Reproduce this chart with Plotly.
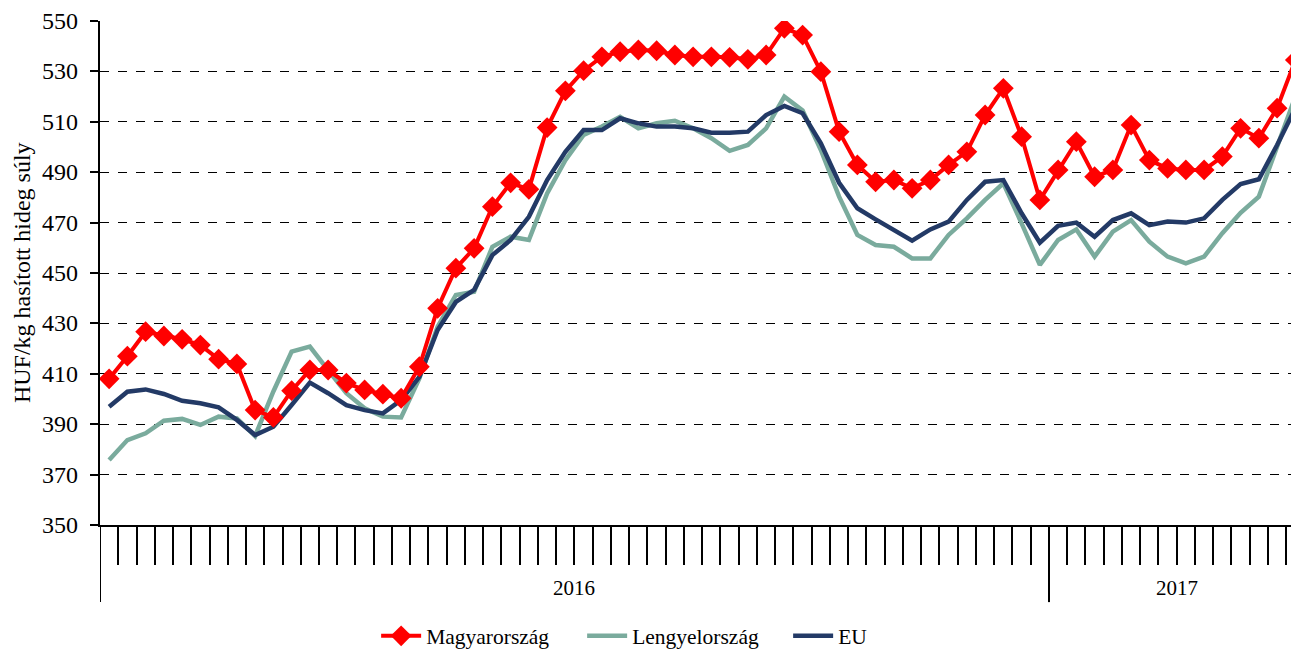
import plotly.graph_objects as go

weeks = list(range(66))  # 52 weeks of 2016 + 14 weeks of 2017

magyarorszag = [408, 417, 426.7, 425, 423.7, 421.4, 415.8, 413.9, 395.6, 392.7,
                403.3, 411.5, 411.5, 406.3, 403.6, 401.9, 400.3, 412.8, 436, 451.9,
                459.8, 476.3, 485.8, 483.2, 507.7, 522.3, 530.3, 535.8, 537.8, 538.5,
                538.2, 536.5, 535.8, 535.8, 535.6, 534.8, 536.5, 547.1, 544.4, 529.9,
                506.1, 492.9, 486.2, 486.9, 483.6, 486.9, 492.9, 498.1, 512.7, 523.3,
                504.1, 479, 490.9, 502.1, 488.2, 490.9, 508.7, 494.8, 491.5, 490.9,
                490.9, 496.2, 507.4, 503.5, 515.4, 534.5]

lengyelorszag = [375.8, 383.7, 386.4, 391.4, 392.1, 389.7, 393, 392.3, 385.3, 403,
                 418.8, 420.8, 411.5, 402.3, 396.3, 393, 392.7, 408.2, 428.7, 441.3,
                 442.6, 460.4, 464.4, 463.1, 481.6, 494.8, 504.8, 508.1, 512, 507.4,
                 509.4, 510.4, 507.4, 503.5, 498.5, 500.8, 507.4, 520, 514.5, 498.8,
                 480.3, 465.1, 461.1, 460.4, 455.8, 455.8, 465.1, 471.7, 479, 485.6,
                 469.7, 453.2, 463.1, 467.3, 456.5, 466.4, 471, 462.4, 456.5, 453.8,
                 456.5, 465.8, 473.9, 480.3, 500.1, 520]

eu = [396.9, 402.9, 403.8, 402, 399.3, 398.3, 396.7, 391.7, 385.7, 389,
      397.6, 406.5, 402.3, 397.6, 395.6, 394.3, 399.6, 408.8, 427.4, 438.5,
      443.3, 457.1, 463.1, 472.3, 486.9, 498.1, 506.7, 506.7, 511.4, 509.4,
      508.1, 508.1, 507.4, 505.7, 505.7, 506.1, 512.7, 516.3, 513.4, 501.5,
      485.8, 475.7, 471.3, 467.1, 462.8, 467.3, 470.4, 479, 486.2, 486.9,
      473.7, 462, 468.7, 470, 464.4, 471, 473.7, 469, 470.4, 470,
      471.7, 479, 485.3, 487.2, 500.8, 515.4]

years = ["2016", "2017"]
year_centers = [25.5, 58.5]
year_bounds = [-0.5, 51.5]

y_ticks = list(range(350, 551, 20))
y_tick_labels = [str(v) for v in y_ticks]
y_title = "HUF/kg hasított hideg súly"

FONT = "Liberation Serif, Times New Roman, serif"

fig = go.Figure()
fig.add_trace(go.Scatter(x=weeks, y=lengyelorszag, mode="lines", name="Lengyelország",
                         line=dict(color="#7AAB9D", width=4.5), legendrank=2))
fig.add_trace(go.Scatter(x=weeks, y=eu, mode="lines", name="EU",
                         line=dict(color="#233A66", width=4.5), legendrank=3))
fig.add_trace(go.Scatter(x=weeks, y=magyarorszag, mode="lines+markers", name="Magyarország",
                         line=dict(color="#FF0000", width=4),
                         marker=dict(symbol="diamond", size=16, color="#FF0000"),
                         legendrank=1))

shapes = []
for b in year_bounds:
    shapes.append(dict(type="line", xref="x", yref="paper", x0=b, x1=b, y0=0, y1=-0.153,
                       line=dict(color="black", width=2)))

annotations = []
for name, c in zip(years, year_centers):
    annotations.append(dict(x=c, y=-0.125, xref="x", yref="paper", text=name, showarrow=False,
                            font=dict(family=FONT, size=21, color="black"), yanchor="middle"))
# y tick labels as serif text
for v, lab in zip(y_ticks, y_tick_labels):
    annotations.append(dict(x=-0.0165, y=v, xref="paper", yref="y", text=lab, showarrow=False,
                            xanchor="right", yanchor="middle",
                            font=dict(family=FONT, size=24, color="black")))
annotations.append(dict(x=-0.065, y=0.5, xref="paper", yref="paper", text=y_title,
                        textangle=-90, showarrow=False, xanchor="center", yanchor="middle",
                        font=dict(family=FONT, size=24, color="black")))

# page body adds an 8px offset; the figure is sized so its plot area lands at x 100..1299, y 21..525
fig.update_layout(
    width=1291, height=642,
    margin=dict(l=92, r=0, t=13, b=125, autoexpand=False),
    paper_bgcolor="white", plot_bgcolor="white",
    font=dict(family=FONT, size=21, color="black"),
    showlegend=True,
    legend=dict(orientation="h", x=0.2303, xanchor="left", y=-0.22, yanchor="middle",
                font=dict(family=FONT, size=21.5, color="black"), traceorder="normal",
                itemwidth=40, entrywidth=151, entrywidthmode="pixels"),
    shapes=shapes,
    annotations=annotations,
    xaxis=dict(range=[-0.5, 65.2], tickmode="array", tickvals=[i - 0.5 for i in weeks[1:]],
               showticklabels=False, ticks="outside", ticklen=38, tickwidth=2, tickcolor="black",
               showgrid=False, zeroline=False, showline=True, linecolor="black", linewidth=2,
               automargin=False),
    yaxis=dict(range=[350, 550], tickmode="array", tickvals=y_ticks,
               showticklabels=False,
               ticks="outside", ticklen=8, tickwidth=2, tickcolor="black",
               showgrid=True, gridcolor="black", griddash="dash", gridwidth=1.2,
               zeroline=False, showline=True, linecolor="black", linewidth=2,
               automargin=False),
)

fig.write_html("out.html")
